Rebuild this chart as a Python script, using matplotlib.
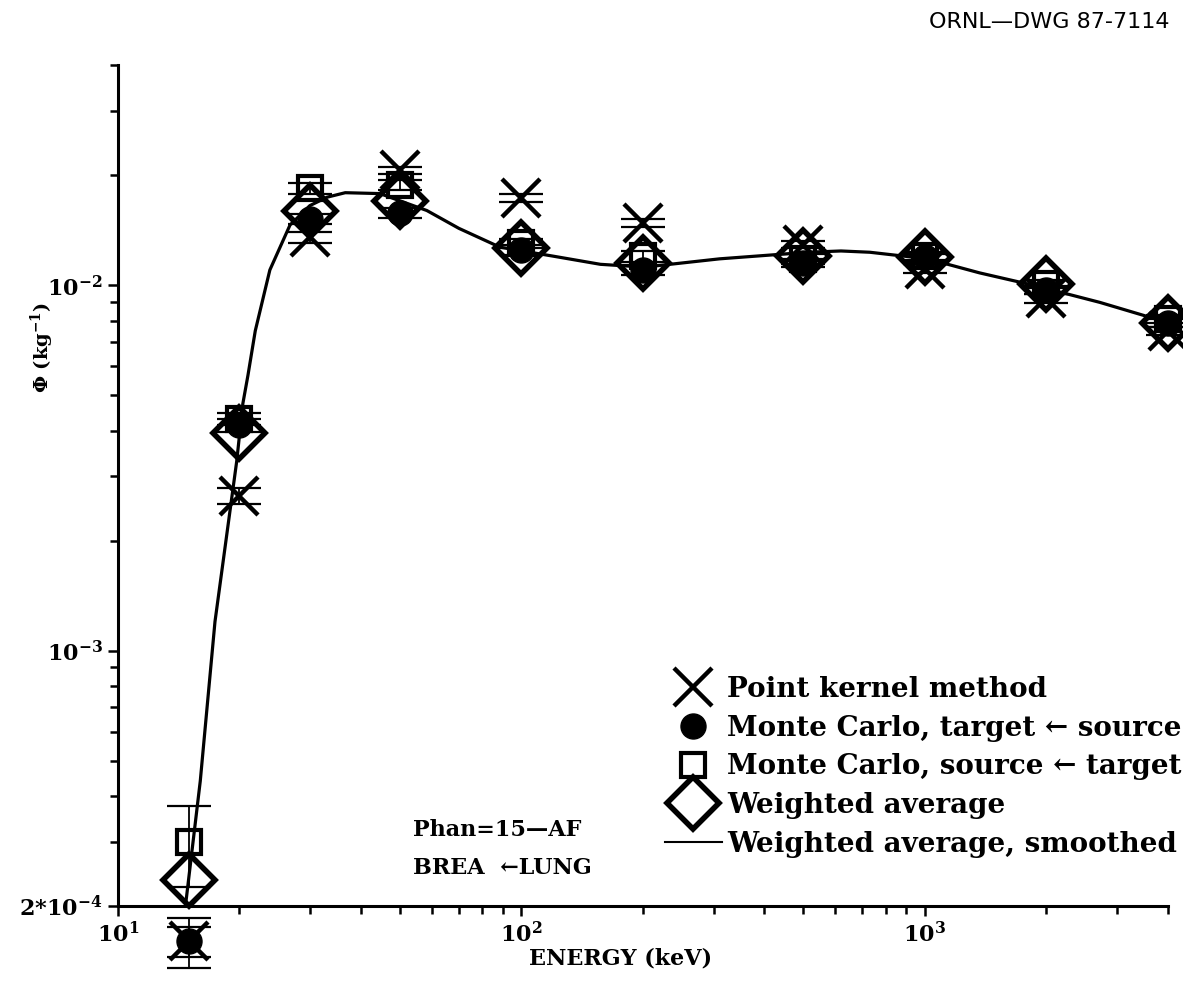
import matplotlib
matplotlib.use("Agg")
import matplotlib.pyplot as plt
from matplotlib.lines import Line2D
from matplotlib.ticker import FixedLocator, FixedFormatter, LogLocator, NullFormatter

# energies (keV)
energy = [15, 20, 30, 50, 100, 200, 500, 1000, 2000, 4000]

# point kernel method
pk_val = [1.6e-4, 2.65e-3, 1.35e-2, 2.06e-2, 1.73e-2, 1.48e-2, 1.29e-2, 1.11e-2, 9.2e-3, 7.5e-3]
pk_err = [2.5e-5, 1.3e-4, 4.5e-4, 5e-4, 4e-4, 4e-4, 3e-4, 3e-4, 2.5e-4, 2e-4]

# monte carlo, target <- source
mcts_val = [1.6e-4, 4.13e-3, 1.52e-2, 1.58e-2, 1.25e-2, 1.10e-2, 1.15e-2, 1.19e-2, 9.7e-3, 7.9e-3]
mcts_err = [1.5e-5, 1.6e-4, 5e-4, 5e-4, 4e-4, 3.5e-4, 3e-4, 3e-4, 2.5e-4, 2e-4]

# monte carlo, source <- target
mcst_val = [3.0e-4, 4.3e-3, 1.84e-2, 1.88e-2, 1.30e-2, 1.20e-2, 1.18e-2, 1.20e-2, 1.01e-2, 8.1e-3]
mcst_err = [7.5e-5, 1.7e-4, 6e-4, 6e-4, 4e-4, 4e-4, 3.5e-4, 3e-4, 2.5e-4, 2e-4]

# weighted average
wa_val = [2.36e-4, 3.95e-3, 1.60e-2, 1.70e-2, 1.26e-2, 1.15e-2, 1.20e-2, 1.19e-2, 1.01e-2, 7.9e-3]

# smoothed curve
curve_e = [14.7, 16.0, 17.4, 19.7, 20.4, 21.0, 21.9, 23.8, 26.7, 29.9, 33, 36.6, 44.6,
           58.3, 70, 88.5, 120, 157, 202, 310, 513, 620, 731, 1016, 1368, 1874, 2716, 4000]
curve_v = [2.0e-4, 4.4e-4, 1.2e-3, 3.3e-3, 4.74e-3, 5.66e-3, 7.5e-3, 1.10e-2, 1.46e-2, 1.65e-2,
           1.74e-2, 1.79e-2, 1.78e-2, 1.60e-2, 1.43e-2, 1.27e-2, 1.20e-2, 1.14e-2, 1.12e-2,
           1.18e-2, 1.23e-2, 1.24e-2, 1.23e-2, 1.18e-2, 1.08e-2, 9.97e-3, 8.97e-3, 7.9e-3]

ytick_vals = [2e-4, 1e-3, 1e-2]
ytick_labels = [r'$\mathbf{2{*}10^{-4}}$', r'$\mathbf{10^{-3}}$', r'$\mathbf{10^{-2}}$']
xtick_vals = [10, 100, 1000]
xtick_labels = [r'$\mathbf{10^{1}}$', r'$\mathbf{10^{2}}$', r'$\mathbf{10^{3}}$']

plt.rcParams['mathtext.fontset'] = 'dejavuserif'
serif = 'DejaVu Serif'

fig = plt.figure(figsize=(11.83, 9.83), dpi=100)
ax = fig.add_axes([0.0997, 0.0783, 0.8873, 0.8555])
ax.set_xscale('log')
ax.set_yscale('log')
ax.set_xlim(10, 4000)
ax.set_ylim(2e-4, 4e-2)

k = 'black'
ax.plot(curve_e, curve_v, color=k, lw=2.3, clip_on=False, zorder=2)

def err_series(vals, errs):
    c = ax.errorbar(energy, vals, yerr=errs, fmt='none', ecolor=k, elinewidth=1.3,
                    capsize=16, capthick=1.6, zorder=3)
    for a in c.get_children():
        a.set_clip_on(False)

err_series(pk_val, pk_err)
err_series(mcts_val, mcts_err)
err_series(mcst_val, mcst_err)

ax.plot(energy, pk_val, ls='none', marker='x', ms=27, mew=3.2, color=k, clip_on=False, zorder=4)
ax.plot(energy, mcts_val, ls='none', marker='o', ms=18, color=k, clip_on=False, zorder=4)
ax.plot(energy, mcst_val, ls='none', marker='s', ms=17, mew=3, mfc='none', mec=k,
        clip_on=False, zorder=4)
ax.plot(energy, wa_val, ls='none', marker='D', ms=26, mew=4, mfc='none', mec=k,
        clip_on=False, zorder=5)

# axes look
for s in ['top', 'right']:
    ax.spines[s].set_visible(False)
for s in ['left', 'bottom']:
    ax.spines[s].set_linewidth(2.2)

ax.xaxis.set_major_locator(FixedLocator(xtick_vals))
ax.xaxis.set_major_formatter(FixedFormatter(xtick_labels))
ax.xaxis.set_minor_locator(LogLocator(base=10, subs=range(2, 10)))
ax.xaxis.set_minor_formatter(NullFormatter())
ax.yaxis.set_major_locator(FixedLocator(ytick_vals))
ax.yaxis.set_major_formatter(FixedFormatter(ytick_labels))
ax.yaxis.set_minor_locator(LogLocator(base=10, subs=range(2, 10)))
ax.yaxis.set_minor_formatter(NullFormatter())
ax.tick_params(which='both', direction='out', width=1.8, color=k)
ax.tick_params(which='major', length=7, labelsize=16, pad=4)
ax.tick_params(which='minor', length=6)

ax.set_xlabel('ENERGY (keV)', fontsize=16, fontweight='bold', family=serif)
ax.xaxis.set_label_coords(0.479, -0.049)
ax.set_ylabel(r'$\mathbf{\Phi}$ (kg$^{\mathbf{-1}}$)', fontsize=14, fontweight='bold', family=serif)
ax.yaxis.set_label_coords(-0.059, 0.664)

# legend
handles = [
    Line2D([], [], ls='none', marker='x', ms=27, mew=3.2, color=k),
    Line2D([], [], ls='none', marker='o', ms=18, color=k),
    Line2D([], [], ls='none', marker='s', ms=17, mew=3, mfc='none', mec=k),
    Line2D([], [], ls='none', marker='D', ms=26, mew=4, mfc='none', mec=k),
    Line2D([], [], color=k, lw=1.5),
]
labels = ['Point kernel method',
          'Monte Carlo, target \u2190 source',
          'Monte Carlo, source \u2190 target',
          'Weighted average',
          'Weighted average, smoothed']
ax.legend(handles, labels, loc='upper left', bbox_to_anchor=(0.521, 0.2735),
          frameon=False, borderaxespad=0, borderpad=0, handlelength=2.05,
          handletextpad=0.18, labelspacing=0.42,
          prop={'family': serif, 'weight': 'bold', 'size': 20})

ax.text(0.281, 0.090, 'Phan=15\u2014AF', transform=ax.transAxes, va='center', ha='left',
        fontsize=16, fontweight='bold', family=serif)
ax.text(0.281, 0.045, 'BREA  \u2190LUNG', transform=ax.transAxes, va='center', ha='left',
        fontsize=16, fontweight='bold', family=serif)

fig.text(0.989, 0.978, 'ORNL\u2014DWG 87-7114', ha='right', va='center', fontsize=16,
         family='DejaVu Sans')

fig.savefig('out.png', dpi=100)
